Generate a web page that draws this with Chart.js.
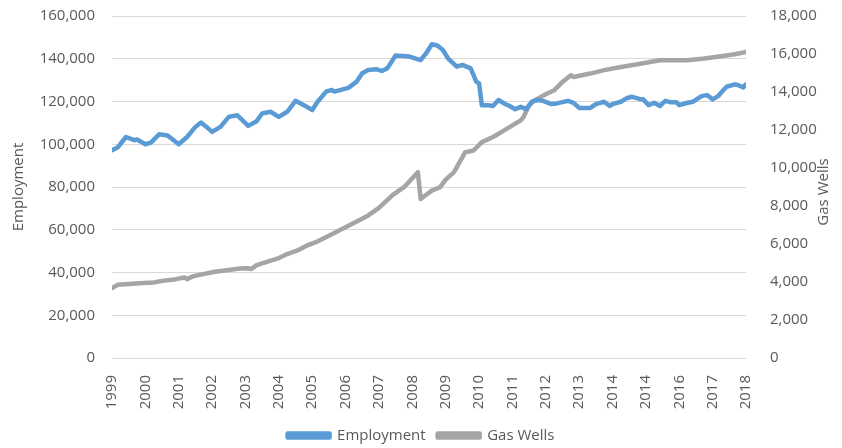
<!DOCTYPE html>
<html>
<head>
<meta charset="utf-8">
<script src="https://cdn.jsdelivr.net/npm/chart.js@4/dist/chart.umd.min.js"></script>
<style>
  html, body { margin: 0; padding: 0; background: #fff; }
  #wrap { width: 842px; height: 448px; }
</style>
</head>
<body>
<div id="wrap"><canvas id="chart" width="842" height="448"></canvas></div>
<script>
// x tick labels, one every 12 months (the source chart repeats 2014)
const yearLabels = ['1999', '2000', '2001', '2002', '2003', '2004', '2005', '2006', '2007', '2008',
  '2009', '2010', '2011', '2012', '2013', '2014', '2014', '2016', '2017', '2018'];

// employment: month index since Jan 1999 and value (left axis)
const empMonths = [0, 2, 5, 8, 9, 12, 14, 17, 20, 24, 27, 30, 32, 34, 36, 39, 42, 45, 49, 52,
  54, 57, 60, 63, 66, 69, 72, 74, 77, 79, 80, 85, 88, 90, 92, 95, 97, 99, 102, 107,
  111, 113, 115, 117, 119, 121, 124, 126, 129, 131, 132, 133, 135, 137, 139, 141, 143, 145, 147, 149,
  151, 153, 155, 158, 160, 164, 166, 168, 172, 174, 177, 179, 180, 183, 185, 187, 190, 191, 193, 195,
  197, 199, 201, 203, 204, 207, 209, 212, 214, 216, 218, 219, 221, 224, 225, 227, 228];
const empValues = [97200, 98450, 103400, 101900, 102200, 100000, 100800, 104700, 104100, 100000,
  103400, 108100, 110200, 108100, 105800, 108100, 112800, 113600, 108600, 110800,
  114400, 115200, 112800, 115200, 120300, 118300, 116000, 120000, 124600, 125400,
  124600, 126400, 129300, 133200, 134700, 135100, 134300, 135500, 141500, 141000,
  139400, 142600, 146800, 146200, 144100, 139900, 136300, 137100, 135500, 129300,
  128500, 118300, 118300, 117900, 120700, 119100, 117900, 116400, 117500, 116400,
  119900, 120700, 120300, 118800, 119100, 120300, 119400, 117000, 117000, 118800,
  119900, 117900, 118800, 119900, 121500, 122200, 121100, 121000, 118300, 119400,
  117900, 120300, 119600, 119600, 118300, 119400, 119900, 122500, 123000, 121000,
  122500, 124100, 126900, 128000, 127700, 126600, 128000];

// gas wells: month index since Jan 1999 and value (right axis)
const wellMonths = [0, 2, 6, 10, 15, 18, 23, 26, 27, 29, 31, 37, 42, 46, 49, 50, 52, 56, 60, 63,
  67, 70, 74, 78, 82, 87, 92, 96, 101, 105, 110, 111, 113, 115, 118, 120, 123, 125, 127, 130,
  133, 137, 140, 144, 147, 148, 150, 152, 156, 159, 162, 165, 166, 172, 177, 183, 189, 195, 197, 207,
  213, 219, 224, 228];
const wellValues = [3680, 3850, 3890, 3940, 3975, 4060, 4150, 4240, 4150, 4290,
  4360, 4540, 4630, 4710, 4730, 4680, 4890, 5070, 5260, 5470,
  5680, 5910, 6140, 6440, 6740, 7110, 7490, 7900, 8590, 8990,
  9780, 8370, 8590, 8810, 8990, 9390, 9780, 10310, 10830, 10920,
  11360, 11630, 11890, 12240, 12510, 12680, 13300, 13560, 13880, 14090,
  14530, 14880, 14790, 14970, 15150, 15320, 15460, 15620, 15670, 15670,
  15760, 15880, 15990, 16110];

const textColor = '#595959';
const gridColor = '#d9d9d9';
const fontFamily = '"Open Sans", "Liberation Sans", sans-serif';
const fmt = v => Number(v).toLocaleString('en-US');

// right axis title reads bottom-to-top like the left one
const rightTitle = {
  id: 'rightTitle',
  afterDraw(chart) {
    const { ctx, chartArea } = chart;
    ctx.save();
    ctx.translate(824, (chartArea.top + chartArea.bottom) / 2 + 5);
    ctx.rotate(-Math.PI / 2);
    ctx.fillStyle = textColor;
    ctx.font = '15px ' + fontFamily;
    ctx.textAlign = 'center';
    ctx.textBaseline = 'middle';
    ctx.fillText('Gas Wells', 0, 0);
    ctx.restore();
  }
};

const ctx = document.getElementById('chart').getContext('2d');
new Chart(ctx, {
  type: 'line',
  data: {
    datasets: [
      {
        label: 'Employment',
        data: empMonths.map((m, i) => ({ x: m, y: empValues[i] })),
        borderColor: '#5b9bd5',
        backgroundColor: '#5b9bd5',
        borderWidth: 4.5,
        pointRadius: 0,
        tension: 0,
        borderCapStyle: 'round',
        borderJoinStyle: 'round',
        yAxisID: 'y'
      },
      {
        label: 'Gas Wells',
        data: wellMonths.map((m, i) => ({ x: m, y: wellValues[i] })),
        borderColor: '#a5a5a5',
        backgroundColor: '#a5a5a5',
        borderWidth: 4.5,
        pointRadius: 0,
        tension: 0,
        borderCapStyle: 'round',
        borderJoinStyle: 'round',
        yAxisID: 'y1'
      }
    ]
  },
  options: {
    responsive: false,
    animation: false,
    layout: { padding: { top: 0, right: 0, bottom: -5, left: 0 } },
    scales: {
      x: {
        type: 'linear',
        min: 0,
        max: 228,
        grid: { display: false },
        border: { display: false },
        ticks: {
          stepSize: 12,
          autoSkip: false,
          minRotation: 90,
          maxRotation: 90,
          padding: 9,
          color: textColor,
          font: { family: fontFamily, size: 15 },
          callback: v => yearLabels[Math.round(v / 12)]
        },
        afterFit: s => { s.height = 58; }
      },
      y: {
        position: 'left',
        min: 0,
        max: 160000,
        grid: { color: gridColor, lineWidth: 1, drawTicks: true, tickLength: 10, tickColor: 'rgba(0,0,0,0)' },
        border: { display: false },
        ticks: {
          stepSize: 20000,
          padding: 7,
          color: textColor,
          font: { family: fontFamily, size: 15 },
          callback: v => fmt(v)
        },
        title: {
          display: true,
          text: 'Employment',
          color: textColor,
          font: { family: fontFamily, size: 15 },
          padding: { top: 10, bottom: 0 }
        },
        afterFit: s => { s.width = 112; }
      },
      y1: {
        position: 'right',
        min: 0,
        max: 18000,
        grid: { drawOnChartArea: false, drawTicks: true, tickLength: 17, tickColor: 'rgba(0,0,0,0)' },
        border: { display: false },
        ticks: {
          stepSize: 2000,
          padding: 7,
          color: textColor,
          font: { family: fontFamily, size: 15 },
          callback: v => fmt(v)
        },
        afterFit: s => { s.width = 96; }
      }
    },
    plugins: {
      legend: {
        position: 'bottom',
        labels: {
          boxWidth: 42,
          boxHeight: 4,
          padding: 12,
          color: textColor,
          font: { family: fontFamily, size: 15 }
        }
      },
      tooltip: { enabled: false }
    }
  },
  plugins: [rightTitle]
});
</script>
</body>
</html>
